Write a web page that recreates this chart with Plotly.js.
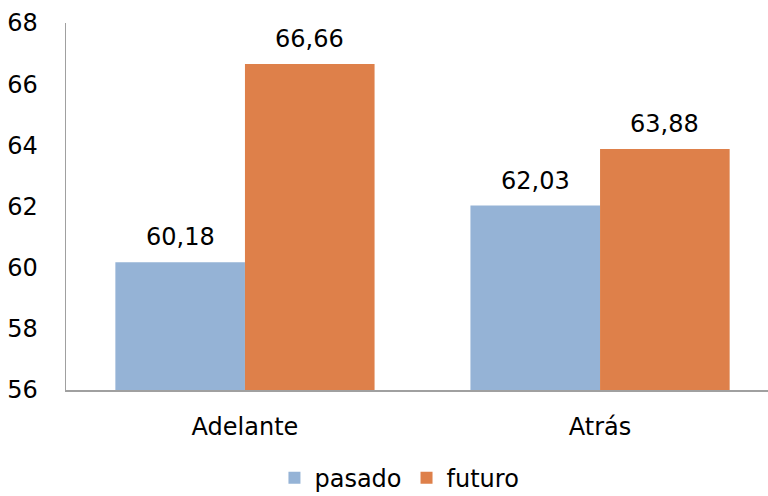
<!DOCTYPE html>
<html>
<head>
<meta charset="utf-8">
<script src="https://cdn.plot.ly/plotly-3.0.1.min.js"></script>
<style>html,body{margin:0;padding:0;background:#fff}#chart{width:768px;height:496px}</style>
</head>
<body>
<div id="chart"></div>
<script>
const categories = ["Adelante", "Atrás"];
const pasado = [60.18, 62.03];
const futuro = [66.66, 63.88];
const seriesNames = ["pasado", "futuro"];
const yTicks = [56, 58, 60, 62, 64, 66, 68];

const fontFamily = "DejaVu Sans, sans-serif";
const fontSize = 24;
const colors = ["#95B3D6", "#DE804A"];
const bargap = 0.27;
const halfBar = (1 - bargap) / 4;

const traces = [pasado, futuro].map((vals, k) => ({
  type: "bar",
  name: seriesNames[k],
  x: categories,
  y: vals,
  marker: {color: colors[k], line: {width: 0}},
  hoverinfo: "skip"
}));

const fmt = v => v.toFixed(2).replace(".", ",");
const annotations = [];
[pasado, futuro].forEach((vals, k) => {
  vals.forEach((v, i) => {
    annotations.push({
      x: i + (k === 0 ? -halfBar : halfBar),
      y: v,
      xref: "x", yref: "y",
      text: fmt(v),
      showarrow: false,
      yanchor: "bottom",
      yshift: 9,
      font: {family: fontFamily, size: fontSize, color: "#000"}
    });
  });
});

const layout = {
  width: 768, height: 496,
  margin: {l: 66, r: 0, t: 23, b: 106, autoexpand: false},
  paper_bgcolor: "#fff", plot_bgcolor: "#fff",
  separators: ",.",
  barmode: "group",
  bargap: bargap,
  bargroupgap: 0,
  font: {family: fontFamily, size: fontSize, color: "#000"},
  showlegend: true,
  legend: {
    orientation: "h", x: 0.475, xanchor: "center", y: -0.24, yanchor: "middle",
    font: {family: fontFamily, size: fontSize, color: "#000"},
    itemwidth: 30, tracegroupgap: 0
  },
  xaxis: {
    type: "category",
    range: [-0.504, 1.473],
    showline: true, linecolor: "#A0A0A0", linewidth: 1.5,
    showgrid: false, zeroline: false,
    ticks: "outside", ticklen: 15, tickcolor: "rgba(0,0,0,0)",
    tickfont: {family: fontFamily, size: fontSize, color: "#000"},
    fixedrange: true
  },
  yaxis: {
    range: [56, 68],
    tickvals: yTicks,
    ticktext: yTicks.map(String),
    showline: true, linecolor: "#A0A0A0", linewidth: 1.5,
    showgrid: false, zeroline: false,
    ticks: "outside", ticklen: 22, tickcolor: "rgba(0,0,0,0)",
    tickfont: {family: fontFamily, size: fontSize, color: "#000"},
    fixedrange: true
  },
  annotations: annotations
};

Plotly.newPlot("chart", traces, layout, {staticPlot: true, displayModeBar: false});
</script>
</body>
</html>
